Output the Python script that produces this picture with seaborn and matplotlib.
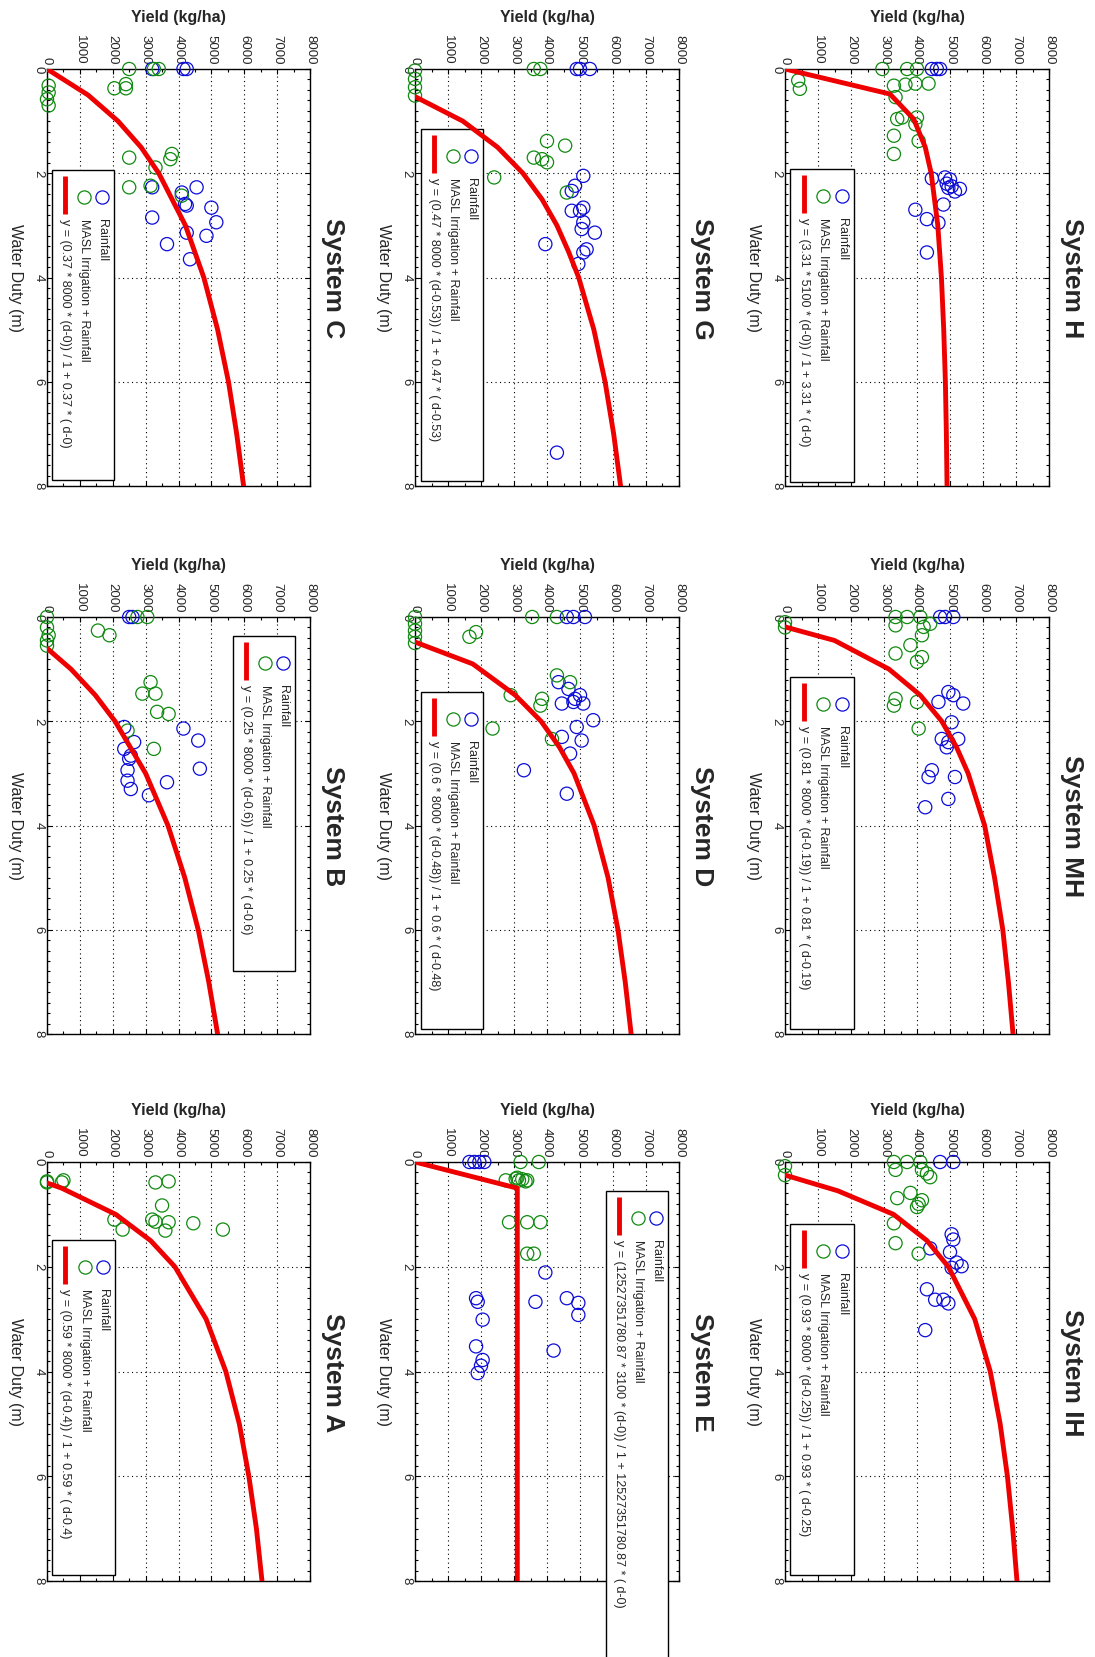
import numpy as np
import pandas as pd
import matplotlib
matplotlib.use("Agg")
import matplotlib.pyplot as plt
import seaborn as sns
from matplotlib.patches import Rectangle
from matplotlib.ticker import MultipleLocator

sns.set_style("ticks")
plt.rcParams['font.family'] = ['Liberation Sans', 'DejaVu Sans']

BLUE = '#0c0cd8'
GREEN = '#108a10'
RED = '#ee0000'

# ---------------- data ----------------
# System H
H_rain_duty = [0, 0, 0, 2.1, 2.08, 2.12, 2.2, 2.25, 2.28, 2.3, 2.35, 2.6, 2.7, 2.88, 2.95, 3.52]
H_rain_yield = [4450, 4600, 4700, 4450, 4850, 5000, 4900, 5050, 4950, 5300, 5150, 4800, 3950, 4300, 4650, 4300]
H_masl_duty = [0, 0, 0, 0.28, 0.28, 0.3, 0.32, 0.22, 0.38, 0.54, 0.93, 0.93, 0.96, 1.06, 1.28, 1.38, 1.63]
H_masl_yield = [2950, 3700, 4000, 4350, 3950, 3650, 3300, 400, 450, 3350, 4000, 3550, 3400, 3950, 3300, 4050, 3300]
H_curve_duty = [0, 0.48, 0.96, 1.5, 2, 3, 4, 5, 6, 7, 8]
H_curve_yield = [0, 3180, 3900, 4250, 4430, 4630, 4740, 4810, 4860, 4890, 4910]

# System MH
MH_rain_duty = [0, 0, 0, 1.44, 1.5, 1.63, 1.66, 2.02, 2.34, 2.34, 2.4, 2.5, 2.94, 3.07, 3.07, 3.49, 3.65]
MH_rain_yield = [4700, 4850, 5100, 4950, 5100, 4650, 5400, 5050, 4750, 5250, 4950, 4900, 4450, 4350, 5150, 4950, 4250]
MH_masl_duty = [0.1, 0.2, 0, 0, 0, 0.13, 0.19, 0.16, 0.35, 0.54, 0.7, 0.77, 0.86, 1.57, 1.7, 1.63, 2.14]
MH_masl_yield = [0, 0, 3350, 3700, 4100, 4400, 4200, 3350, 4150, 3800, 3350, 4150, 4000, 3350, 3300, 4000, 4050]
MH_curve_duty = [0.19, 0.45, 1.0, 1.5, 2, 2.5, 3, 4, 5, 6, 7, 8]
MH_curve_yield = [0, 1500, 3150, 4100, 4750, 5200, 5550, 6050, 6350, 6600, 6770, 6910]

# System IH
IH_rain_duty = [0, 0, 1.38, 1.48, 1.72, 1.65, 1.92, 1.99, 2.02, 2.43, 2.63, 2.63, 2.7, 3.21]
IH_rain_yield = [4700, 5100, 5050, 5100, 5000, 4400, 5200, 5350, 5050, 4300, 4550, 4800, 4950, 4250]
IH_masl_duty = [0.08, 0.25, 0, 0, 0, 0.15, 0.22, 0.29, 0.15, 0.59, 0.73, 0.8, 0.86, 0.69, 1.17, 1.55, 1.75]
IH_masl_yield = [0, 0, 3300, 3700, 4100, 4150, 4300, 4400, 3350, 3800, 4150, 4050, 4000, 3400, 3300, 3350, 4050]
IH_curve_duty = [0.25, 0.55, 1.0, 1.5, 2, 3, 4, 5, 6, 7, 8]
IH_curve_yield = [0, 1600, 3290, 4300, 4950, 5750, 6220, 6520, 6740, 6900, 7030]

# System G
G_rain_duty = [0, 0, 0, 2.05, 2.24, 2.34, 2.66, 2.72, 2.72, 2.94, 3.07, 3.14, 3.36, 3.46, 3.52, 3.74, 7.36]
G_rain_yield = [4900, 5000, 5300, 5100, 4850, 4750, 5100, 4750, 5000, 5100, 5050, 5450, 3950, 5200, 5100, 4950, 4300]
G_masl_duty = [0.03, 0.19, 0.35, 0.51, 0, 0, 1.38, 1.47, 1.7, 1.73, 1.79, 2.08, 2.37]
G_masl_yield = [0, 0, 0, 0, 3600, 3800, 4000, 4550, 3600, 3850, 4000, 2400, 4600]
G_curve_duty = [0.53, 1.0, 1.5, 2, 2.5, 3, 3.5, 4, 5, 6, 7, 8]
G_curve_yield = [0, 1450, 2500, 3270, 3850, 4300, 4650, 4960, 5420, 5760, 6020, 6230]

# System D
D_rain_duty = [0, 0, 0, 1.25, 1.38, 1.5, 1.57, 1.63, 1.66, 1.66, 1.98, 2.11, 2.3, 2.37, 2.62, 2.94, 3.39]
D_rain_yield = [4600, 4800, 5150, 4350, 4650, 5000, 4850, 4800, 4450, 5100, 5400, 4900, 4450, 5050, 4700, 3300, 4600]
D_masl_duty = [0, 0.13, 0.26, 0.38, 0.5, 0, 0, 0.29, 0.38, 1.12, 1.25, 1.5, 1.57, 1.7, 2.14, 2.34]
D_masl_yield = [0, 0, 0, 0, 0, 3550, 4300, 1850, 1650, 4300, 4700, 2900, 3850, 3800, 2350, 4150]
D_curve_duty = [0.48, 0.9, 1.5, 2, 2.5, 3, 4, 5, 6, 7, 8]
D_curve_yield = [0, 1750, 3040, 3820, 4380, 4820, 5430, 5850, 6150, 6370, 6550]

# System E
E_rain_duty = [0, 0, 0, 0, 2.11, 2.6, 2.67, 2.67, 2.6, 2.69, 2.92, 3.01, 3.6, 3.52, 3.78, 3.89, 4.03]
E_rain_yield = [1650, 1800, 1950, 2100, 3950, 1850, 1900, 3650, 4600, 4950, 4950, 2050, 4200, 1850, 2050, 2000, 1900]
E_masl_duty = [0, 0, 0.35, 0.32, 0.35, 0.37, 0.35, 0.3, 0.33, 1.15, 1.15, 1.15, 1.75, 1.75]
E_masl_yield = [3200, 3750, 2750, 3050, 3150, 3350, 3400, 3100, 3250, 2850, 3400, 3800, 3400, 3600]
E_curve_duty = [0, 0.5, 8]
E_curve_yield = [0, 3100, 3100]

# System C
C_rain_duty = [0, 0, 0, 2.27, 2.27, 2.37, 2.59, 2.62, 2.66, 2.94, 2.85, 3.14, 3.2, 3.36, 3.65]
C_rain_yield = [3200, 4150, 4250, 3200, 4550, 4100, 4200, 4250, 5000, 5150, 3200, 4250, 4850, 3650, 4350]
C_masl_duty = [0.32, 0.45, 0.58, 0.7, 0, 0, 0, 0.29, 0.37, 0.37, 1.63, 1.73, 1.89, 1.7, 2.27, 2.24, 2.43]
C_masl_yield = [50, 50, 0, 50, 2500, 3250, 3400, 2400, 2400, 2050, 3800, 3750, 3300, 2500, 2500, 3150, 4100]
C_curve_duty = [0, 0.5, 1, 1.5, 2, 3, 4, 5, 6, 7, 8]
C_curve_yield = [0, 1250, 2160, 2860, 3400, 4210, 4770, 5190, 5520, 5770, 5980]

# System B
B_rain_duty = [0, 0, 2.11, 2.14, 2.37, 2.4, 2.53, 2.66, 2.72, 2.94, 2.91, 3.17, 3.14, 3.3, 3.42]
B_rain_yield = [2500, 2600, 2350, 4150, 4600, 2650, 2350, 2550, 2500, 2450, 4650, 3650, 2450, 2550, 3100]
B_masl_duty = [0, 0.2, 0.35, 0.45, 0.55, 0, 0, 0.26, 0.35, 1.25, 1.47, 1.47, 1.82, 1.86, 2.18, 2.53]
B_masl_yield = [0, 0, 50, 0, 0, 2750, 3050, 1550, 1900, 3150, 2900, 3300, 3350, 3700, 2450, 3250]
B_curve_duty = [0.6, 1, 1.5, 2, 3, 4, 5, 6, 7, 8]
B_curve_yield = [0, 730, 1470, 2070, 3000, 3680, 4190, 4600, 4920, 5190]

# System A
A_rain_duty = []
A_rain_yield = []
A_masl_duty = [0.37, 0.39, 0.39, 0.35, 0.39, 0.37, 0.83, 1.1, 1.14, 1.15, 1.31, 1.17, 1.1, 1.29, 1.29]
A_masl_yield = [0, 0, 450, 500, 3300, 3700, 3500, 3200, 3300, 3700, 3600, 4450, 2050, 2300, 5350]
A_curve_duty = [0.4, 0.5, 1, 1.5, 2, 3, 4, 5, 6, 7, 8]
A_curve_yield = [0, 450, 2090, 3150, 3890, 4840, 5440, 5850, 6140, 6370, 6540]

titles = ["System C", "System G", "System H",
          "System B", "System D", "System MH",
          "System A", "System E", "System IH"]
equations = [
    "y = (0.37 * 8000 * (d-0)) / 1 + 0.37 * ( d-0)",
    "y = (0.47 * 8000 * (d-0.53)) / 1 + 0.47 * ( d-0.53)",
    "y = (3.31 * 5100 * (d-0)) / 1 + 3.31 * ( d-0)",
    "y = (0.25 * 8000 * (d-0.6)) / 1 + 0.25 * ( d-0.6)",
    "y = (0.6 * 8000 * (d-0.48)) / 1 + 0.6 * ( d-0.48)",
    "y = (0.81 * 8000 * (d-0.19)) / 1 + 0.81 * ( d-0.19)",
    "y = (0.59 * 8000 * (d-0.4)) / 1 + 0.59 * ( d-0.4)",
    "y = (12527351780.87 * 3100 * (d-0)) / 1 + 12527351780.87 * ( d-0)",
    "y = (0.93 * 8000 * (d-0.25)) / 1 + 0.93 * ( d-0.25)",
]
series = [
    (C_rain_duty, C_rain_yield, C_masl_duty, C_masl_yield, C_curve_duty, C_curve_yield),
    (G_rain_duty, G_rain_yield, G_masl_duty, G_masl_yield, G_curve_duty, G_curve_yield),
    (H_rain_duty, H_rain_yield, H_masl_duty, H_masl_yield, H_curve_duty, H_curve_yield),
    (B_rain_duty, B_rain_yield, B_masl_duty, B_masl_yield, B_curve_duty, B_curve_yield),
    (D_rain_duty, D_rain_yield, D_masl_duty, D_masl_yield, D_curve_duty, D_curve_yield),
    (MH_rain_duty, MH_rain_yield, MH_masl_duty, MH_masl_yield, MH_curve_duty, MH_curve_yield),
    (A_rain_duty, A_rain_yield, A_masl_duty, A_masl_yield, A_curve_duty, A_curve_yield),
    (E_rain_duty, E_rain_yield, E_masl_duty, E_masl_yield, E_curve_duty, E_curve_yield),
    (IH_rain_duty, IH_rain_yield, IH_masl_duty, IH_masl_yield, IH_curve_duty, IH_curve_yield),
]
yield_ticks = [0, 1000, 2000, 3000, 4000, 5000, 6000, 7000, 8000]
duty_ticks = [0, 2, 4, 6, 8]

# ---------------- layout ----------------
W, Hh = 1095, 1658
fig = plt.figure(figsize=(W / 100, Hh / 100), dpi=100)
cols = [(47, 310), (415, 679), (785, 1049)]
rows = [(70, 487), (618, 1035), (1163, 1582)]
# legend boxes in axes fraction: x0, x1, top-offset, bottom-offset (from top)
legend_boxes = [
    (0.02, 0.255, 0.242, 0.986), (0.023, 0.258, 0.144, 0.988), (0.02, 0.26, 0.24, 0.99),
    (0.707, 0.943, 0.046, 0.849), (0.023, 0.258, 0.18, 0.988), (0.02, 0.26, 0.144, 0.988),
    (0.02, 0.258, 0.186, 0.985), (0.723, 0.958, 0.07, 1.35), (0.02, 0.26, 0.149, 0.986),
]


def draw_legend(ax, box, eq, h_px):
    x0, x1, t0, t1 = box
    ax.add_patch(Rectangle((x0, 1 - t1), x1 - x0, t1 - t0, transform=ax.transAxes,
                           facecolor='white', edgecolor='black', lw=1.0, zorder=6,
                           clip_on=False))
    w = x1 - x0
    top = 1 - t0

    def yf(px):
        return top - px / h_px
    xr, xm, xe = x0 + 0.81 * w, x0 + 0.52 * w, x0 + 0.21 * w
    for xx, cc in ((xr, BLUE), (xm, GREEN)):
        ax.plot([xx], [yf(27)], marker='o', ms=9.5, mfc='none', mec=cc, mew=0.9,
                linestyle='none', transform=ax.transAxes, clip_on=False, zorder=7)
    ax.plot([xe, xe], [yf(6), yf(44)], color=RED, lw=3.5, solid_capstyle='butt',
            transform=ax.transAxes, clip_on=False, zorder=7)
    for xx, tt in ((xr, "Rainfall"), (xm, "MASL Irrigation + Rainfall"), (xe, eq)):
        ax.text(xx, yf(48), tt, rotation=-90, rotation_mode='anchor', ha='left',
                va='center', fontsize=9, transform=ax.transAxes, zorder=8,
                clip_on=False)


for i in range(9):
    r, c = divmod(i, 3)
    (xa, xb), (ya, yb) = cols[c], rows[r]
    ax = fig.add_axes([xa / W, 1 - yb / Hh, (xb - xa) / W, (yb - ya) / Hh])
    rd, ry, md, my, cd, cy = series[i]
    if len(rd):
        sns.scatterplot(x=ry, y=rd, ax=ax, s=90, marker='o', facecolor='none',
                        edgecolor=BLUE, linewidth=0.9, zorder=3, clip_on=False)
    sns.scatterplot(x=my, y=md, ax=ax, s=90, marker='o', facecolor='none',
                    edgecolor=GREEN, linewidth=0.9, zorder=3, clip_on=False)
    sns.lineplot(x=cy, y=cd, ax=ax, sort=False, estimator=None, color=RED,
                 linewidth=3.5, zorder=9)

    ax.set_xlim(0, 8000)
    ax.set_ylim(8, 0)
    ax.set_xticks(yield_ticks)
    ax.set_xticklabels([str(t) for t in yield_ticks])
    ax.set_yticks(duty_ticks)
    ax.set_yticklabels([str(t) for t in duty_ticks])
    ax.xaxis.set_minor_locator(MultipleLocator(500))
    ax.yaxis.set_minor_locator(MultipleLocator(0.2))
    ax.xaxis.tick_top()
    ax.tick_params(which='both', direction='in', top=True, bottom=True, left=True,
                   right=True, labeltop=True, labelbottom=False, color='black')
    ax.tick_params(which='major', length=3.6, width=0.8)
    ax.tick_params(which='minor', length=2.2, width=0.8)
    ax.tick_params(axis='x', which='major', labelrotation=-90, labelsize=9.5, pad=4)
    ax.tick_params(axis='y', which='major', labelrotation=-90, labelsize=9.5, pad=2)
    for sp in ax.spines.values():
        sp.set_visible(True)
        sp.set_linewidth(1.0)
        sp.set_color('black')
    ax.grid(True, which='major', linestyle=(0, (1, 3)), color='black', linewidth=0.8)
    ax.set_axisbelow(True)

    ax.xaxis.set_label_position('top')
    ax.set_xlabel("Yield (kg/ha)", fontsize=11.5, fontweight='bold', labelpad=9)
    ax.set_ylabel("Water Duty (m)", rotation=-90, va='top', fontsize=11.5, labelpad=7)
    ax.annotate(titles[i], xy=(1, 0.5), xycoords='axes fraction', xytext=(16.5, 0),
                textcoords='offset points', rotation=-90, ha='center', va='center',
                fontsize=19, fontweight='bold')

    draw_legend(ax, legend_boxes[i], equations[i], yb - ya)

fig.savefig("out.png", dpi=100, facecolor='white')
